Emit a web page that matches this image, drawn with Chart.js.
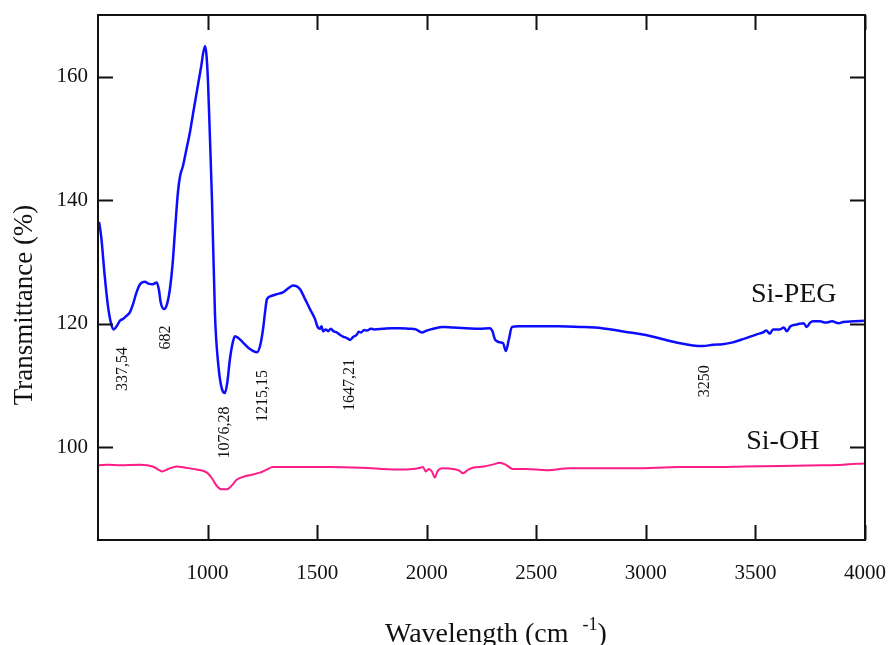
<!DOCTYPE html>
<html>
<head>
<meta charset="utf-8">
<script src="https://cdn.jsdelivr.net/npm/chart.js@4.4.0/dist/chart.umd.min.js"></script>
<style>
  html, body { margin: 0; padding: 0; background: #fff; }
  canvas { display: block; }
</style>
</head>
<body>
<canvas id="ftir" width="891" height="645"></canvas>
<script>
// Si-PEG spectrum
const pegWave = [505, 515, 530, 545, 560, 572, 585, 600, 614, 630, 646, 660, 675, 692, 714, 730, 750, 768, 778, 786, 801, 815, 828, 840, 851, 865, 875, 888, 905, 920, 935, 951, 970, 988, 995, 1002, 1010, 1020, 1034, 1050, 1065, 1079, 1090, 1102, 1115, 1125, 1140, 1161, 1190, 1225, 1240, 1253, 1262, 1271, 1290, 1317, 1344, 1370, 1390, 1405, 1422, 1445, 1467, 1490, 1502, 1513, 1520, 1527, 1540, 1550, 1562, 1575, 1590, 1605, 1620, 1635, 1650, 1665, 1680, 1690, 1700, 1715, 1727, 1745, 1760, 1800, 1840, 1878, 1920, 1950, 1978, 2000, 2030, 2074, 2120, 2180, 2240, 2288, 2300, 2311, 2320, 2334, 2348, 2361, 2375, 2389, 2420, 2500, 2600, 2700, 2800, 2927, 3000, 3078, 3150, 3214, 3260, 3306, 3350, 3397, 3450, 3506, 3534, 3550, 3566, 3580, 3611, 3630, 3643, 3660, 3689, 3702, 3720, 3734, 3750, 3762, 3794, 3820, 3850, 3880, 3900, 3950, 3995];
const pegTrans = [136.5, 134, 128, 123, 120, 119.1, 119.6, 120.5, 120.8, 121.3, 121.9, 123.2, 125, 126.4, 126.8, 126.5, 126.4, 126.7, 125.5, 123.5, 122.4, 123.2, 125.6, 129.5, 134.9, 141.4, 144, 145.6, 148.5, 151.1, 154.3, 157.6, 161.5, 165.0, 163.5, 159.2, 151, 140.2, 121.3, 113, 109.5, 108.8, 110.5, 114.3, 117, 118.0, 117.7, 117.0, 116, 115.4, 116.5, 119.1, 121.8, 124, 124.5, 124.8, 125.1, 125.8, 126.2, 126.1, 125.6, 124, 122.4, 120.8, 119.5, 119.2, 119.6, 118.8, 119.1, 118.8, 119.2, 118.8, 118.6, 118.2, 117.9, 117.7, 117.4, 117.9, 118.2, 118.7, 118.6, 119.0, 118.9, 119.2, 119.1, 119.2, 119.3, 119.3, 119.2, 119.1, 118.6, 118.9, 119.2, 119.5, 119.4, 119.3, 119.2, 119.3, 118.8, 117.5, 117.2, 117.0, 116.9, 115.6, 117.5, 119.5, 119.6, 119.6, 119.6, 119.5, 119.3, 118.6, 118.2, 117.5, 116.9, 116.5, 116.4, 116.6, 116.7, 117.0, 117.6, 118.3, 118.6, 118.9, 118.4, 119.1, 119.1, 119.4, 118.8, 119.6, 119.9, 120.0, 120.1, 119.5, 120.2, 120.4, 120.4, 120.2, 120.4, 120.1, 120.3, 120.4, 120.5];

// Si-OH spectrum
const ohWave = [500, 550, 600, 692, 750, 780, 792, 820, 860, 900, 950, 997, 1020, 1043, 1065, 1088, 1110, 1134, 1180, 1239, 1270, 1298, 1400, 1550, 1700, 1864, 1937, 1970, 1983, 1996, 2010, 2025, 2037, 2050, 2074, 2120, 2150, 2165, 2190, 2211, 2260, 2300, 2334, 2360, 2393, 2450, 2548, 2650, 2800, 2950, 3155, 3300, 3450, 3611, 3800, 3900, 3995];
const ohTrans = [97.1, 97.2, 97.1, 97.2, 96.9, 96.3, 96.1, 96.5, 96.9, 96.7, 96.4, 95.9, 95.0, 93.7, 93.2, 93.2, 93.8, 94.8, 95.4, 95.9, 96.4, 96.8, 96.8, 96.8, 96.7, 96.4, 96.5, 96.7, 96.8, 96.1, 96.5, 96.0, 95.1, 96.2, 96.6, 96.5, 96.2, 95.8, 96.4, 96.7, 96.9, 97.2, 97.5, 97.2, 96.5, 96.5, 96.3, 96.6, 96.6, 96.6, 96.8, 96.8, 96.9, 97.0, 97.1, 97.2, 97.4];

const xTicks = [1000, 1500, 2000, 2500, 3000, 3500, 4000];
const yTicks = [100, 120, 140, 160];

// rotated peak labels: text, wavenumber, transmittance of label centre
const peakText = ['337,54', '682', '1076,28', '1215,15', '1647,21', '3250'];
const peakX = [614, 810, 1079, 1253, 1650, 3269];
const peakY = [112.7, 117.8, 102.4, 108.3, 110.1, 110.7];

const seriesText = ['Si-PEG', 'Si-OH'];
const seriesX = [3675, 3625];
const seriesY = [124.8, 101.0];

const serif = '"Liberation Serif", "Times New Roman", serif';

const toPoints = (xs, ys) => xs.map((x, i) => ({ x, y: ys[i] }));

const framePlugin = {
  id: 'frame',
  afterDraw(chart) {
    const { ctx, chartArea: a, scales: { x, y } } = chart;
    ctx.save();
    ctx.strokeStyle = '#111';
    ctx.lineWidth = 2;
    ctx.strokeRect(a.left, a.top, a.right - a.left, a.bottom - a.top);

    const tl = 15;
    ctx.beginPath();
    xTicks.forEach(v => {
      const px = Math.round(x.getPixelForValue(v)) + 0.5;
      ctx.moveTo(px, a.bottom); ctx.lineTo(px, a.bottom - tl);
      ctx.moveTo(px, a.top); ctx.lineTo(px, a.top + tl);
    });
    yTicks.forEach(v => {
      const py = Math.round(y.getPixelForValue(v)) + 0.5;
      ctx.moveTo(a.left, py); ctx.lineTo(a.left + tl, py);
      ctx.moveTo(a.right, py); ctx.lineTo(a.right - tl, py);
    });
    ctx.stroke();

    ctx.fillStyle = '#111';
    ctx.textAlign = 'center';
    ctx.textBaseline = 'middle';
    ctx.font = '16px ' + serif;
    peakText.forEach((t, i) => {
      ctx.save();
      ctx.translate(x.getPixelForValue(peakX[i]), y.getPixelForValue(peakY[i]));
      ctx.rotate(-Math.PI / 2);
      ctx.fillText(t, 0, 0);
      ctx.restore();
    });

    ctx.font = '28px ' + serif;
    seriesText.forEach((t, i) => {
      ctx.fillText(t, x.getPixelForValue(seriesX[i]), y.getPixelForValue(seriesY[i]));
    });

    // axis titles
    ctx.save();
    ctx.translate(25, 305);
    ctx.rotate(-Math.PI / 2);
    ctx.font = '27px ' + serif;
    ctx.fillText('Transmittance (%)', 0, 0);
    ctx.restore();

    ctx.textAlign = 'left';
    ctx.textBaseline = 'alphabetic';
    ctx.font = '28px ' + serif;
    const main = 'Wavelength (cm';
    let tx = 385;
    ctx.fillText(main, tx, 642);
    tx += ctx.measureText(main).width + 14;
    ctx.font = '18px ' + serif;
    ctx.fillText('-1', tx, 630);
    tx += ctx.measureText('-1').width;
    ctx.font = '28px ' + serif;
    ctx.fillText(')', tx, 642);
    ctx.restore();
  }
};

new Chart(document.getElementById('ftir'), {
  type: 'scatter',
  data: {
    datasets: [
      { label: 'Si-PEG', data: toPoints(pegWave, pegTrans), showLine: true, borderColor: '#0c0cff', borderWidth: 2.5, pointRadius: 0, cubicInterpolationMode: 'monotone' },
      { label: 'Si-OH', data: toPoints(ohWave, ohTrans), showLine: true, borderColor: '#ff1c88', borderWidth: 2, pointRadius: 0, cubicInterpolationMode: 'monotone' }
    ]
  },
  options: {
    responsive: false,
    animation: false,
    layout: { padding: { top: 15, right: 26, left: 0, bottom: 0 } },
    plugins: { legend: { display: false }, tooltip: { enabled: false } },
    scales: {
      x: {
        type: 'linear', min: 500, max: 4000,
        afterBuildTicks: s => { s.ticks = xTicks.map(v => ({ value: v })); },
        afterFit: s => { s.height = 105; s.paddingLeft = 0; s.paddingRight = 0; },
        grid: { display: false, drawTicks: false },
        border: { display: false },
        ticks: { color: '#111', padding: 21, font: { family: serif, size: 21 }, maxRotation: 0, autoSkip: false, callback: v => String(v) }
      },
      y: {
        min: 85, max: 170,
        afterBuildTicks: s => { s.ticks = yTicks.map(v => ({ value: v })); },
        afterFit: s => { s.width = 98; s.paddingTop = 0; s.paddingBottom = 0; },
        grid: { display: false, drawTicks: false },
        border: { display: false },
        ticks: { color: '#111', padding: 10, font: { family: serif, size: 21 }, callback: v => String(v) }
      }
    }
  },
  plugins: [framePlugin]
});
</script>
</body>
</html>
